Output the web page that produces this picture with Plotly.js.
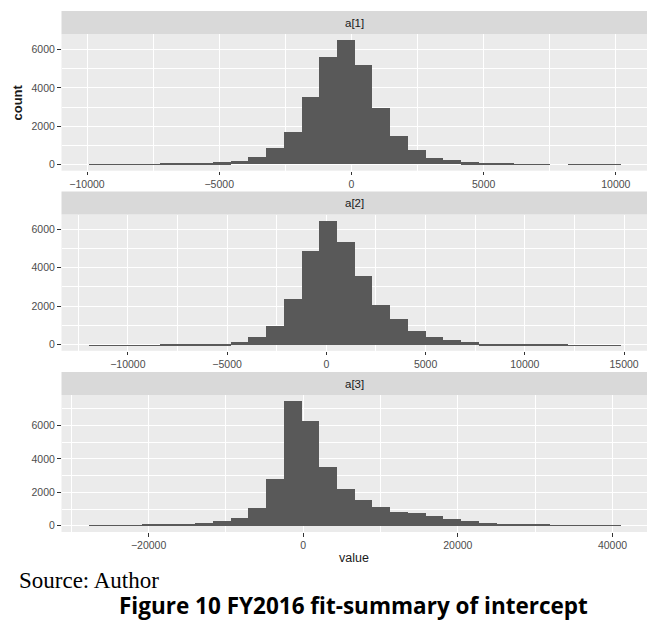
<!DOCTYPE html>
<html><head><meta charset="utf-8">
<script src="https://cdn.plot.ly/plotly-3.0.1.min.js"></script>
<style>html,body{margin:0;padding:0;background:#fff;}#chart{width:659px;height:633px;}</style>
</head><body><div id="chart"></div>
<script>
// ---- data ----
const panelLabels = ['a[1]', 'a[2]', 'a[3]'];

const binStart1 = -9959, binWidth1 = 671;
const counts1 = [1, 3, 5, 8, 12, 20, 52, 104, 190, 380, 830, 1680, 3490, 5600, 6470,
                 5170, 2910, 1470, 765, 347, 205, 104, 52, 15, 10, 8, 0, 5, 4, 3];

const binStart2 = -12004, binWidth2 = 894;
const counts2 = [1, 3, 4, 5, 6, 8, 12, 52, 156, 416, 1006, 2393, 4873, 6433, 5341,
                 3572, 2081, 1330, 720, 430, 260, 155, 65, 15, 10, 8, 6, 5, 4, 3];

const binStart3 = -27826, binWidth3 = 2295;
const counts3 = [3, 15, 25, 60, 70, 110, 190, 270, 490, 1080, 2800, 7460, 6300, 3520, 2200,
                 1540, 1100, 840, 740, 560, 420, 260, 160, 110, 80, 70, 25, 20, 15, 10];

const xTicks1 = [-10000, -5000, 0, 5000, 10000];
const xTickText1 = ['\u221210000', '\u22125000', '0', '5000', '10000'];
const xTicks2 = [-10000, -5000, 0, 5000, 10000, 15000];
const xTickText2 = ['\u221210000', '\u22125000', '0', '5000', '10000', '15000'];
const xTicks3 = [-20000, 0, 20000, 40000];
const xTickText3 = ['\u221220000', '0', '20000', '40000'];
const yTicks = [0, 2000, 4000, 6000];
const yTickText = ['0', '2000', '4000', '6000'];

const xTitle = 'value', yTitle = 'count';
const sourceText = 'Source: Author';
const captionText = 'Figure 10 FY2016 fit-summary of intercept';

// ---- layout helpers ----
const W = 659, H = 633;
const px = x => x / W;
const py = y => 1 - y / H;
const plotL = 61.5, plotR = 647;
const panels = [
  {stripTop: 11, top: 34.3, bottom: 170.7},
  {stripTop: 191.5, top: 214.5, bottom: 350.8},
  {stripTop: 372, top: 395, bottom: 532}
];

const bins = [
  {start: binStart1, width: binWidth1, counts: counts1, tv: xTicks1, tt: xTickText1},
  {start: binStart2, width: binWidth2, counts: counts2, tv: xTicks2, tt: xTickText2},
  {start: binStart3, width: binWidth3, counts: counts3, tv: xTicks3, tt: xTickText3}
];

const tickFont = {family: 'Liberation Sans, Arial, sans-serif', size: 10.5, color: '#4D4D4D'};
const traces = [];
const layout = {
  width: W, height: H, margin: {l: 0, r: 0, t: 0, b: 0},
  paper_bgcolor: '#FFFFFF', plot_bgcolor: '#EBEBEB',
  showlegend: false, bargap: 0,
  shapes: [], annotations: []
};

bins.forEach((b, i) => {
  const n = b.counts.length;
  const centers = b.counts.map((_, k) => b.start + (k + 0.5) * b.width);
  const end = b.start + n * b.width;
  const span = end - b.start;
  const maxC = Math.max(...b.counts);
  const sfx = i === 0 ? '' : String(i + 1);
  traces.push({
    type: 'bar', x: centers, y: b.counts, width: b.counts.map(() => b.width),
    marker: {color: '#595959', line: {width: 0}},
    xaxis: 'x' + sfx, yaxis: 'y' + sfx, hoverinfo: 'x+y'
  });
  const majorStep = b.tv[1] - b.tv[0];
  const p = panels[i];
  layout['xaxis' + sfx] = {
    domain: [px(plotL), px(plotR)], anchor: 'y' + sfx,
    range: [b.start - 0.05 * span, end + 0.05 * span],
    tickmode: 'array', tickvals: b.tv, ticktext: b.tt,
    ticks: 'outside', ticklen: 3.5, tickwidth: 1, tickcolor: '#333333',
    tickfont: tickFont, showgrid: true, gridcolor: '#FFFFFF', gridwidth: 1.4,
    zeroline: false, showline: false, fixedrange: true,
    minor: {dtick: majorStep / 2, tick0: 0, showgrid: true, gridcolor: '#FFFFFF', gridwidth: 0.7, ticks: ''}
  };
  layout['yaxis' + sfx] = {
    domain: [py(p.bottom), py(p.top)], anchor: 'x' + sfx,
    range: [-0.05 * maxC, 1.05 * maxC],
    tickmode: 'array', tickvals: yTicks, ticktext: yTickText,
    ticks: 'outside', ticklen: 3.5, tickwidth: 1, tickcolor: '#333333',
    tickfont: tickFont, showgrid: true, gridcolor: '#FFFFFF', gridwidth: 1.4,
    zeroline: false, showline: false, fixedrange: true,
    minor: {dtick: 1000, tick0: 0, showgrid: true, gridcolor: '#FFFFFF', gridwidth: 0.7, ticks: ''}
  };
  layout.shapes.push({
    type: 'rect', xref: 'paper', yref: 'paper',
    x0: px(plotL), x1: px(plotR), y0: py(p.top), y1: py(p.stripTop),
    fillcolor: '#D9D9D9', line: {width: 0}, layer: 'below'
  });
  layout.annotations.push({
    xref: 'paper', yref: 'paper', x: px((plotL + plotR) / 2), y: py((p.stripTop + p.top) / 2),
    text: panelLabels[i], showarrow: false, xanchor: 'center', yanchor: 'middle',
    font: {family: 'Liberation Sans, Arial, sans-serif', size: 11.5, color: '#1A1A1A'}
  });
});

layout.annotations.push({
  xref: 'paper', yref: 'paper', x: px(17), y: py((panels[0].top + panels[0].bottom) / 2),
  text: '<b>' + yTitle + '</b>', textangle: -90, showarrow: false, xanchor: 'center', yanchor: 'middle',
  font: {family: 'Liberation Sans, Arial, sans-serif', size: 13, color: '#1A1A1A'}
});
layout.annotations.push({
  xref: 'paper', yref: 'paper', x: px((plotL + plotR) / 2), y: py(558),
  text: xTitle, showarrow: false, xanchor: 'center', yanchor: 'middle',
  font: {family: 'Liberation Sans, Arial, sans-serif', size: 12.5, color: '#1A1A1A'}
});
layout.annotations.push({
  xref: 'paper', yref: 'paper', x: px(17), y: py(580),
  text: sourceText, showarrow: false, xanchor: 'left', yanchor: 'middle',
  font: {family: 'Liberation Serif, Times New Roman, serif', size: 23, color: '#000000'}
});
layout.annotations.push({
  xref: 'paper', yref: 'paper', x: px(353), y: py(605),
  text: '<b>' + captionText + '</b>', showarrow: false, xanchor: 'center', yanchor: 'middle',
  font: {family: 'Open Sans, sans-serif', size: 22.5, color: '#000000'}
});

Plotly.newPlot('chart', traces, layout, {displayModeBar: false, responsive: false});
</script></body></html>
